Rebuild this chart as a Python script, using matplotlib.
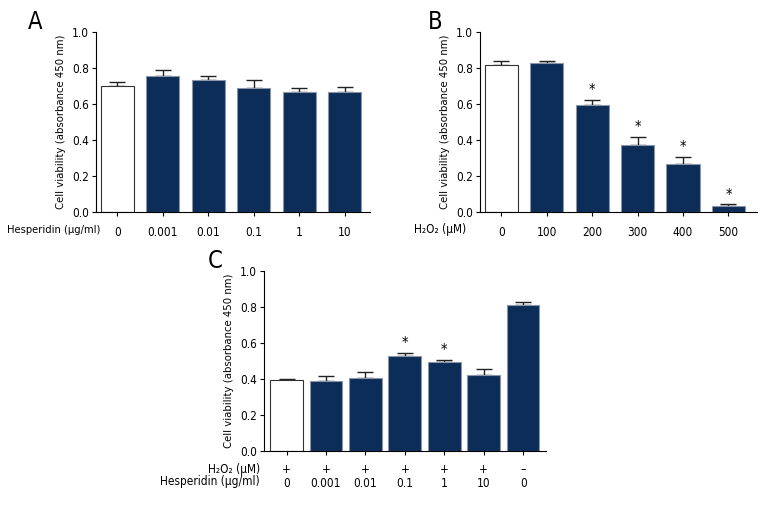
import numpy as np
import matplotlib
matplotlib.use('Agg')
import matplotlib.pyplot as plt
from matplotlib import font_manager as fm

# pick a narrow font if the system has one (the original uses a condensed face)
narrow = None
for f in fm.fontManager.ttflist:
    if f.style != 'normal' or f.weight not in (400, 'normal', 'regular'):
        continue
    if 'Narrow' in f.name or 'Condensed' in f.name or f.stretch in ('condensed', 'semi-condensed'):
        if narrow is None or 'Liberation' in f.name:
            narrow = f
if narrow is not None:
    plt.rcParams['font.family'] = [narrow.name, 'DejaVu Sans']
    plt.rcParams['font.stretch'] = narrow.stretch
    fs = 8.5
else:
    plt.rcParams['font.family'] = ['DejaVu Sans']
    fs = 7

# Panel A data
a_labels = ['0', '0.001', '0.01', '0.1', '1', '10']
a_vals = [0.700, 0.756, 0.734, 0.691, 0.665, 0.667]
a_err = [0.020, 0.035, 0.024, 0.045, 0.023, 0.030]

# Panel B data
b_labels = ['0', '100', '200', '300', '400', '500']
b_vals = [0.815, 0.826, 0.597, 0.375, 0.266, 0.035]
b_err = [0.024, 0.011, 0.024, 0.043, 0.041, 0.008]
b_sig = [False, False, True, True, True, True]

# Panel C data
c_h2o2 = ['+', '+', '+', '+', '+', '+', '\u2013']
c_hesp = ['0', '0.001', '0.01', '0.1', '1', '10', '0']
c_vals = [0.392, 0.388, 0.407, 0.525, 0.492, 0.421, 0.811]
c_err = [0.005, 0.026, 0.029, 0.018, 0.014, 0.037, 0.019]
c_sig = [False, False, False, True, True, False, False]

navy = '#0c2d57'
ylab = 'Cell viability (absorbance 450 nm)'

fig = plt.figure(figsize=(7.8, 5.16), dpi=100)


def panel(rect, vals, err, width, xlim, sig=None):
    ax = fig.add_axes(rect)
    x = np.arange(len(vals))
    colors = ['white'] + [navy] * (len(vals) - 1)
    edges = ['#333333'] + ['#8a96a8'] * (len(vals) - 1)
    ax.bar(x, vals, width=width, color=colors, edgecolor=edges, linewidth=0.8, zorder=2)
    ax.errorbar(x, vals, yerr=[np.zeros(len(vals)), err], fmt='none',
                ecolor='#222222', elinewidth=1, capsize=5.5, capthick=1, zorder=1)
    if sig is not None:
        for i, s in enumerate(sig):
            if s:
                ax.text(x[i], vals[i] + err[i] + 0.01, '*', ha='center', va='bottom', fontsize=fs + 2)
    ax.set_ylim(0, 1.0)
    ax.set_yticks(np.arange(0, 1.01, 0.2))
    ax.set_yticklabels(['%.1f' % v for v in np.arange(0, 1.01, 0.2)])
    ax.set_xlim(*xlim)
    ax.set_xticks(x)
    ax.spines['top'].set_visible(False)
    ax.spines['right'].set_visible(False)
    ax.tick_params(labelsize=fs, length=3, width=0.8, pad=2)
    ax.tick_params(axis='x', pad=7)
    ax.set_ylabel(ylab, fontsize=fs - 0.4, labelpad=4)
    return ax


axA = panel([0.123, 0.589, 0.351, 0.349], a_vals, a_err, 0.73, (-0.47, 5.55))
axA.set_xticklabels(a_labels)
fig.text(100 / 780, 1 - 230 / 516, 'Hesperidin (\u00b5g/ml)', ha='right', va='center', fontsize=fs - 0.5)
fig.text(28 / 780, 1 - 22 / 516, 'A', ha='left', va='center', fontsize=17)

axB = panel([0.615, 0.589, 0.355, 0.349], b_vals, b_err, 0.73, (-0.48, 5.62), b_sig)
axB.set_xticklabels(b_labels)
fig.text(466 / 780, 1 - 230 / 516, 'H\u2082O\u2082 (\u00b5M)', ha='right', va='center', fontsize=fs)
fig.text(428 / 780, 1 - 22 / 516, 'B', ha='left', va='center', fontsize=17)

axC = panel([0.338, 0.126, 0.362, 0.349], c_vals, c_err, 0.83, (-0.58, 6.58), c_sig)
axC.set_xticklabels([h + '\n' + v for h, v in zip(c_h2o2, c_hesp)], linespacing=1.05)
axC.tick_params(axis='x', pad=6)
fig.text(260 / 780, 1 - 469 / 516, 'H\u2082O\u2082 (\u00b5M)', ha='right', va='center', fontsize=fs)
fig.text(260 / 780, 1 - 482 / 516, 'Hesperidin (\u00b5g/ml)', ha='right', va='center', fontsize=fs)
fig.text(208 / 780, 1 - 261 / 516, 'C', ha='left', va='center', fontsize=17)

fig.savefig('out.png', dpi=100)
